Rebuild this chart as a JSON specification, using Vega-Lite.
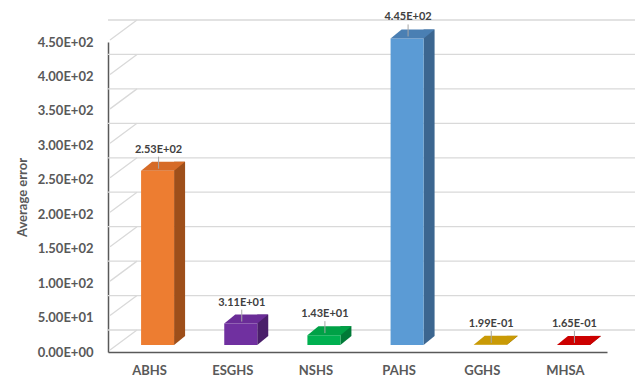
{
  "$schema": "https://vega.github.io/schema/vega-lite/v6.json",
  "autosize": {"type": "none"},
  "width": 499,
  "height": 310,
  "padding": {"left": 108, "top": 42, "right": 28, "bottom": 29},
  "background": "white",
  "config": {
    "font": "Lato",
    "view": {"stroke": null},
    "axisY": {
      "values": [0, 50, 100, 150, 200, 250, 300, 350, 400, 450],
      "labelExpr": "replace(replace(format(datum.value, '.2e'), 'e+', 'E+0'), 'e-', 'E-0')",
      "grid": false,
      "ticks": false,
      "domain": true,
      "domainColor": "#595959",
      "domainWidth": 1.5,
      "labelFont": "Lato",
      "labelFontSize": 13,
      "labelFontWeight": "bold",
      "labelColor": "#595959",
      "labelPadding": 15,
      "titleFont": "Lato",
      "titleFontSize": 13,
      "titleFontWeight": "bold",
      "titleColor": "#595959",
      "titlePadding": 8
    },
    "axisX": {
      "grid": false,
      "ticks": false,
      "domain": true,
      "domainColor": "#595959",
      "domainWidth": 1.5,
      "labelAngle": 0,
      "labelFont": "Lato",
      "labelFontSize": 13,
      "labelFontWeight": "bold",
      "labelColor": "#595959",
      "labelPadding": 12
    }
  },
  "data": {
    "values": [
      {"method": "ABHS", "value": 253},
      {"method": "ESGHS", "value": 31.1},
      {"method": "NSHS", "value": 14.3},
      {"method": "PAHS", "value": 445},
      {"method": "GGHS", "value": 0.199},
      {"method": "MHSA", "value": 0.165}
    ]
  },
  "resolve": {"scale": {"color": "independent"}},
  "layer": [
    {
      "data": {"values": [{"v": 0}, {"v": 50}, {"v": 100}, {"v": 150}, {"v": 200}, {"v": 250}, {"v": 300}, {"v": 350}, {"v": 400}, {"v": 450}]},
      "mark": {"type": "rule", "color": "#d9d9d9", "strokeWidth": 1.3, "xOffset": 29, "x2Offset": 28, "yOffset": -22},
      "encoding": {
        "y": {"field": "v", "type": "quantitative", "title": "Average error", "scale": {"domain": [0, 450], "nice": false}}
      }
    },
    {
      "data": {"values": [{"v": 0}, {"v": 50}, {"v": 100}, {"v": 150}, {"v": 200}, {"v": 250}, {"v": 300}, {"v": 350}, {"v": 400}, {"v": 450}]},
      "mark": {"type": "rule", "color": "#d9d9d9", "strokeWidth": 1.3, "yOffset": -2, "y2Offset": -22},
      "encoding": {
        "x": {"value": 2},
        "x2": {"value": 29},
        "y": {"field": "v", "type": "quantitative", "title": "Average error", "scale": {"domain": [0, 450], "nice": false}},
        "y2": {"field": "v"}
      }
    },
    {
      "mark": {"type": "bar", "width": 11, "xOffset": 30, "yOffset": -16, "y2Offset": -16},
      "encoding": {
        "x": {"field": "method", "type": "nominal", "sort": null, "title": null, "scale": {"padding": 0}},
        "y": {"field": "value", "type": "quantitative", "title": "Average error", "scale": {"domain": [0, 450], "nice": false}},
        "y2": {"datum": 0},
        "color": {"field": "method", "type": "nominal", "legend": null,
          "scale": {"domain": ["ABHS", "ESGHS", "NSHS", "PAHS", "GGHS", "MHSA"], "range": ["#9e4f1a", "#4a1f6a", "#007a37", "#3c6690", "#8e6c00", "#8a0000"]}}
      }
    },
    {
      "mark": {"type": "point", "filled": true, "opacity": 1, "strokeWidth": 0, "size": 1600, "xOffset": 8, "yOffset": -7,
        "shape": "M 0.825 0 L 0.825 -0.45 L 1.375 -0.45 Z"},
      "encoding": {
        "x": {"field": "method", "type": "nominal", "sort": null, "title": null, "scale": {"padding": 0}},
        "y": {"datum": 0, "type": "quantitative", "title": "Average error", "scale": {"domain": [0, 450], "nice": false}},
        "color": {"field": "method", "type": "nominal", "legend": null,
          "scale": {"domain": ["ABHS", "ESGHS", "NSHS", "PAHS", "GGHS", "MHSA"], "range": ["#9e4f1a", "#4a1f6a", "#007a37", "#3c6690", "#8e6c00", "#8a0000"]}}
      }
    },
    {
      "mark": {"type": "bar", "width": 33, "xOffset": 8, "yOffset": -7, "y2Offset": -7},
      "encoding": {
        "x": {"field": "method", "type": "nominal", "sort": null, "title": null, "scale": {"padding": 0}},
        "y": {"field": "value", "type": "quantitative", "title": "Average error", "scale": {"domain": [0, 450], "nice": false}},
        "y2": {"datum": 0},
        "color": {"field": "method", "type": "nominal", "legend": null,
          "scale": {"domain": ["ABHS", "ESGHS", "NSHS", "PAHS", "GGHS", "MHSA"], "range": ["#ed7d31", "#7030a0", "#00b050", "#5b9bd5", "#dca600", "#d60000"]}}
      }
    },
    {
      "mark": {"type": "point", "filled": true, "opacity": 1, "strokeWidth": 0, "size": 1600, "xOffset": 8, "yOffset": -7,
        "shape": "M -0.825 0 L 0.825 0 L 1.375 -0.45 L -0.275 -0.45 Z"},
      "encoding": {
        "x": {"field": "method", "type": "nominal", "sort": null, "title": null, "scale": {"padding": 0}},
        "y": {"field": "value", "type": "quantitative", "title": "Average error", "scale": {"domain": [0, 450], "nice": false}},
        "color": {"field": "method", "type": "nominal", "legend": null,
          "scale": {"domain": ["ABHS", "ESGHS", "NSHS", "PAHS", "GGHS", "MHSA"], "range": ["#d66b27", "#6a2c97", "#00a146", "#4a7fb3", "#c99a06", "#cc0000"]}}
      }
    },
    {
      "mark": {"type": "rule", "color": "#a6a6a6", "strokeWidth": 1, "xOffset": 9, "yOffset": -9, "y2Offset": -21},
      "encoding": {
        "x": {"field": "method", "type": "nominal", "sort": null, "title": null, "scale": {"padding": 0}},
        "y": {"field": "value", "type": "quantitative", "title": "Average error", "scale": {"domain": [0, 450], "nice": false}},
        "y2": {"field": "value"}
      }
    },
    {
      "transform": [
        {"calculate": "replace(replace(format(datum.value, '.2e'), 'e+', 'E+0'), 'e-', 'E-0')", "as": "label"}
      ],
      "mark": {"type": "text", "font": "Lato", "fontSize": 11, "fontWeight": "bold", "color": "#404040", "baseline": "middle", "xOffset": 9, "yOffset": -28},
      "encoding": {
        "x": {"field": "method", "type": "nominal", "sort": null, "title": null, "scale": {"padding": 0}},
        "y": {"field": "value", "type": "quantitative", "title": "Average error", "scale": {"domain": [0, 450], "nice": false}},
        "text": {"field": "label"}
      }
    }
  ]
}
